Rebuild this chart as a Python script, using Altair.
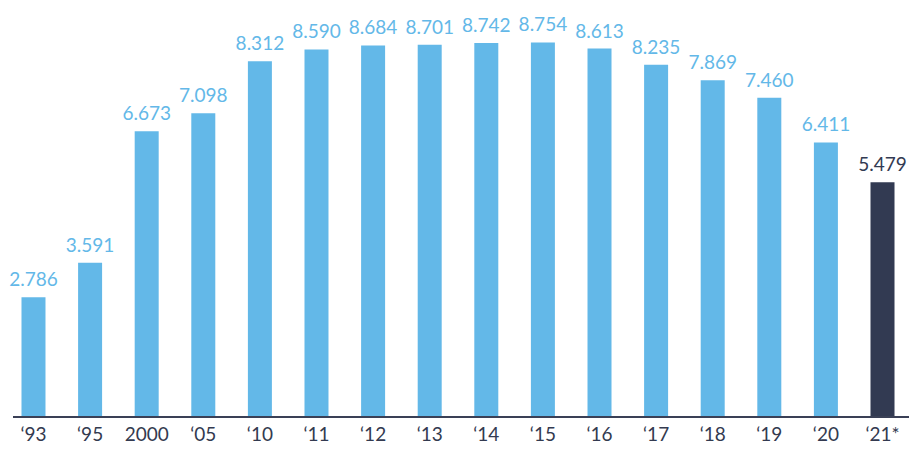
import altair as alt
import pandas as pd

years = ["‘93", "‘95", "2000", "‘05", "‘10", "‘11", "‘12", "‘13", "‘14", "‘15",
         "‘16", "‘17", "‘18", "‘19", "‘20", "‘21*"]
values = [2.786, 3.591, 6.673, 7.098, 8.312, 8.590, 8.684, 8.701, 8.742, 8.754,
          8.613, 8.235, 7.869, 7.460, 6.411, 5.479]
labels = ["2.786", "3.591", "6.673", "7.098", "8.312", "8.590", "8.684", "8.701",
          "8.742", "8.754", "8.613", "8.235", "7.869", "7.460", "6.411", "5.479"]
kind = ["past"] * 15 + ["current"]

df = pd.DataFrame({"year": years, "value": values, "label": labels, "kind": kind})

FONT = "Lato"
color = alt.Color("kind:N", scale=alt.Scale(domain=["past", "current"],
                                            range=["#63b8e8", "#323a52"]), legend=None)

x = alt.X("year:N", sort=None, title=None,
          scale=alt.Scale(paddingInner=0.576, paddingOuter=0.150),
          axis=alt.Axis(labelAngle=0, ticks=False, tickSize=0, domain=False,
                        labelColor="#333a50", labelFont=FONT, labelFontSize=19,
                        labelBaseline="alphabetic", labelPadding=24, grid=False))
y = alt.Y("value:Q", scale=alt.Scale(domain=[0, 9.375], nice=False), axis=None)

bars = alt.Chart(df).mark_bar().encode(x=x, y=y, color=color)
text = alt.Chart(df).mark_text(baseline="alphabetic", dy=-11, font=FONT, fontSize=19).encode(
    x=alt.X("year:N", sort=None), y=y, text="label:N", color=color)
baseline = alt.Chart(df).mark_rule(color="#3a4056", strokeWidth=2).encode(
    x=alt.value(0), x2=alt.value(896), y=alt.value(401))

chart = (bars + text + baseline).properties(
    width=890, height=400,
    padding={"left": 5, "right": 6, "top": 8, "bottom": 29},
    autosize=alt.AutoSizeParams(type="none"),
).configure_view(stroke=None)

chart.save("out.html", embed_options={"renderer": "svg", "actions": False})
